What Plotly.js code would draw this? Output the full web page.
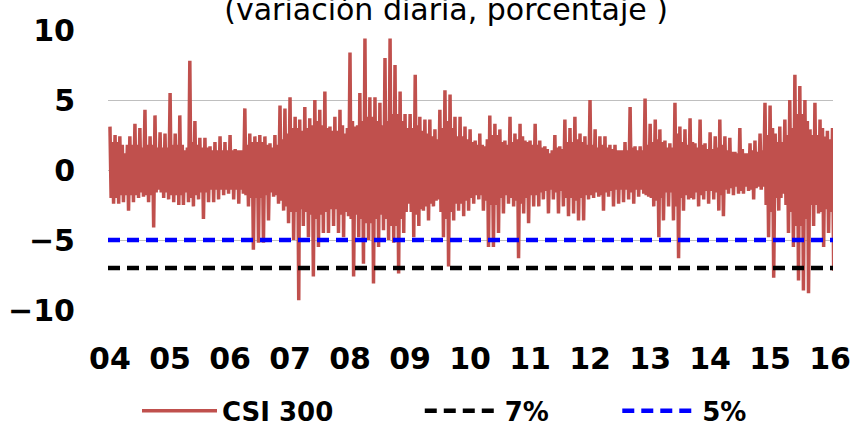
<!DOCTYPE html>
<html><head><meta charset="utf-8">
<script src="https://cdn.plot.ly/plotly-3.0.1.min.js"></script>
<style>html,body{margin:0;padding:0;background:#fff}#chart{width:858px;height:429px}</style>
</head><body><div id="chart"></div>
<script>
// Year ticks
const years = [2004,2005,2006,2007,2008,2009,2010,2011,2012,2013,2014,2015,2016];
const yearTickLabels = ['04','05','06','07','08','09','10','11','12','13','14','15','16'];

// CSI 300 daily change (%): per year, monthly [spike high, spike low] pairs
const csi2004 = [3.1,-2.4, 2.5,-2.4, 2.4,-2.3, 1.2,-2.9, 2.4,-2.3, 3.3,-2.0, 3.0,-1.9, 4.3,-2.3, 2.4,-4.1, 3.9,-1.4, 2.7,-2.0, 2.6,-2.1];
const csi2005 = [5.5,-2.3, 2.6,-2.5, 3.9,-2.5, 1.4,-2.3, 7.8,-2.6, 3.5,-2.1, 2.3,-3.5, 2.3,-2.3, 1.7,-2.3, 2.0,-2.1, 2.4,-1.8, 2.0,-1.7];
const csi2006 = [2.5,-2.1, 1.5,-2.4, 1.4,-1.7, 4.4,-2.6, 2.6,-5.7, 2.4,-5.2, 2.5,-5.2, 2.4,-3.6, 1.9,-1.9, 2.5,-2.4, 4.6,-2.9, 4.4,-3.8];
const csi2007 = [5.2,-5.0, 3.8,-9.3, 3.6,-4.0, 4.5,-4.8, 3.7,-7.6, 5.0,-5.5, 4.3,-4.5, 5.6,-4.5, 3.1,-4.0, 3.8,-4.5, 4.3,-4.8, 2.6,-3.3];
const csi2008 = [8.4,-7.6, 3.1,-4.8, 5.5,-6.7, 9.4,-5.0, 5.2,-8.1, 5.2,-5.5, 4.8,-4.3, 8.0,-5.0, 9.4,-5.2, 7.5,-7.4, 5.6,-4.5, 4.0,-2.4];
const csi2009 = [4.0,-4.8, 6.8,-4.0, 3.8,-2.9, 3.6,-3.6, 3.6,-2.6, 2.9,-2.1, 4.3,-4.8, 5.7,-6.9, 5.4,-3.6, 3.8,-2.9, 3.8,-3.3, 3.1,-2.9];
const csi2010 = [2.9,-2.4, 2.1,-2.1, 2.6,-2.9, 1.7,-5.5, 3.9,-5.5, 3.3,-4.5, 2.9,-3.1, 2.1,-2.4, 3.8,-2.6, 2.6,-6.3, 3.3,-3.1, 2.1,-3.8];
const csi2011 = [2.1,-2.6, 3.3,-2.6, 2.1,-2.1, 1.7,-3.1, 1.2,-2.1, 2.5,-3.1, 1.7,-2.6, 3.6,-3.3, 3.0,-3.1, 3.8,-3.6, 2.6,-3.6, 2.4,-2.1];
const csi2012 = [5.0,-2.0, 2.9,-1.9, 2.4,-2.9, 2.4,-1.9, 1.8,-2.6, 1.8,-2.4, 1.4,-2.3, 2.0,-2.1, 4.5,-2.4, 1.7,-1.9, 1.7,-1.7, 5.1,-1.9];
const csi2013 = [3.3,-2.6, 3.6,-4.8, 2.9,-3.6, 2.1,-2.6, 1.9,-3.6, 4.8,-6.3, 3.1,-2.9, 2.9,-2.1, 3.7,-2.1, 1.9,-2.6, 3.6,-2.1, 1.9,-2.4];
const csi2014 = [2.7,-2.1, 2.4,-2.9, 3.6,-3.3, 2.4,-1.7, 2.3,-1.8, 1.3,-1.7, 3.0,-1.7, 1.2,-1.5, 1.9,-2.1, 2.1,-1.2, 2.6,-1.2, 4.8,-4.8];
const csi2015 = [4.6,-7.7, 2.6,-2.9, 3.1,-1.7, 3.6,-4.5, 5.0,-5.5, 6.8,-7.9, 6.0,-8.6, 5.0,-8.8, 2.9,-4.0, 4.8,-3.1, 3.6,-5.5, 2.4,-4.5];
const csi2016 = [2.2,-7.2];

// Typical swing of the dense core each month (estimated, %)
const core2004 = [2.0,2.0,1.8,1.8,1.8,1.8,1.6,1.8,1.8,1.6,1.6,1.6];
const core2005 = [1.8,1.8,1.8,1.6,2.0,1.8,1.6,1.6,1.4,1.4,1.4,1.4];
const core2006 = [1.4,1.4,1.4,1.8,2.0,2.0,2.0,1.8,1.6,1.8,2.2,2.6];
const core2007 = [3.0,3.0,2.8,3.0,3.2,3.5,3.2,3.0,2.8,2.8,3.2,3.0];
const core2008 = [3.5,3.2,3.5,3.8,3.8,3.5,3.2,3.5,4.0,4.0,3.5,3.0];
const core2009 = [3.0,3.2,2.8,2.6,2.4,2.2,3.0,3.5,3.0,2.4,2.4,2.2];
const core2010 = [2.0,1.8,1.8,2.2,2.5,2.5,2.0,1.8,2.0,2.2,2.4,2.0];
const core2011 = [1.8,1.8,1.6,1.5,1.4,1.6,1.5,2.0,2.0,2.2,2.0,1.8];
const core2012 = [1.8,1.6,1.8,1.6,1.5,1.4,1.4,1.4,1.6,1.4,1.4,1.8];
const core2013 = [2.0,2.2,2.0,1.6,1.6,2.6,2.0,1.8,2.0,1.6,1.8,1.5];
const core2014 = [1.5,1.6,1.8,1.4,1.3,1.2,1.5,1.2,1.4,1.3,1.4,2.5];
const core2015 = [3.0,2.0,2.0,2.5,3.0,4.0,4.0,3.5,2.5,2.5,3.0,2.8];
const core2016 = [3.0];

// Threshold lines
const limitDates = ['2003-12-20','2016-01-19'];
const limit7 = [-7,-7];
const limit5 = [-5,-5];

const spikes = [csi2004,csi2005,csi2006,csi2007,csi2008,csi2009,csi2010,csi2011,csi2012,csi2013,csi2014,csi2015,csi2016];
const cores = [core2004,core2005,core2006,core2007,core2008,core2009,core2010,core2011,core2012,core2013,core2014,core2015,core2016];
function pad(n){return (n<10?'0':'')+n;}
const csiDates = [], csiValues = [];
spikes.forEach((arr, i) => {
  const core = cores[i];
  for (let m = 0; m < arr.length / 2; m++) {
    const ym = years[i] + '-' + pad(m + 1) + '-';
    const hi = arr[2*m], lo = arr[2*m+1], c = core[m];
    csiDates.push(ym + '01', ym + '08', ym + '16', ym + '23');
    csiValues.push(hi, -c, c, lo);
  }
});

const tickFont = {family:'DejaVu Sans', size:30, color:'#000', weight:'bold'};
const sp = '\u00A0';

const traces = [
  {x: csiDates, y: csiValues, type:'scatter', mode:'lines', name:'CSI 300' + sp.repeat(9),
   line:{color:'#C0504D', width:3.5}},
  {x: limitDates, y: limit7, type:'scatter', mode:'lines', name:'7%' + sp.repeat(7),
   line:{color:'#000000', width:4.5, dash:'12px,7px'}},
  {x: limitDates, y: limit5, type:'scatter', mode:'lines', name:'5%',
   line:{color:'#0000FF', width:4.5, dash:'12px,7px'}}
];

const layout = {
  width:858, height:429,
  margin:{l:108, r:25, t:30, b:119, autoexpand:false},
  paper_bgcolor:'#fff', plot_bgcolor:'#fff',
  title:{text:'(variación diaria, porcentaje )', font:{family:'DejaVu Sans', size:30, color:'#000'},
         x:0.52, xanchor:'center', y:0.979, yref:'container', yanchor:'middle', automargin:false},
  xaxis:{type:'date', range:limitDates, tickvals: years.map(y => y + '-01-01'), ticktext: yearTickLabels,
         showgrid:false, zeroline:false, showline:false, ticks:'', tickfont:tickFont, ticklabelstandoff:28,
         automargin:false},
  yaxis:{range:[-10,10], tickvals:[-10,-5,0,5,10], showgrid:true, gridcolor:'#BFBFBF', gridwidth:1,
         zeroline:true, zerolinecolor:'#BFBFBF', zerolinewidth:1, showline:false, ticks:'',
         tickfont:tickFont, ticklabelstandoff:32, automargin:false},
  showlegend:true,
  legend:{orientation:'h', x:0.04, xanchor:'left', y:-0.36, yanchor:'middle',
          font:{family:'DejaVu Sans', size:26, color:'#000', weight:'bold'}, itemwidth:75,
          bgcolor:'rgba(0,0,0,0)'}
};

Plotly.newPlot('chart', traces, layout, {staticPlot:true, displayModeBar:false});
</script>
</body></html>
